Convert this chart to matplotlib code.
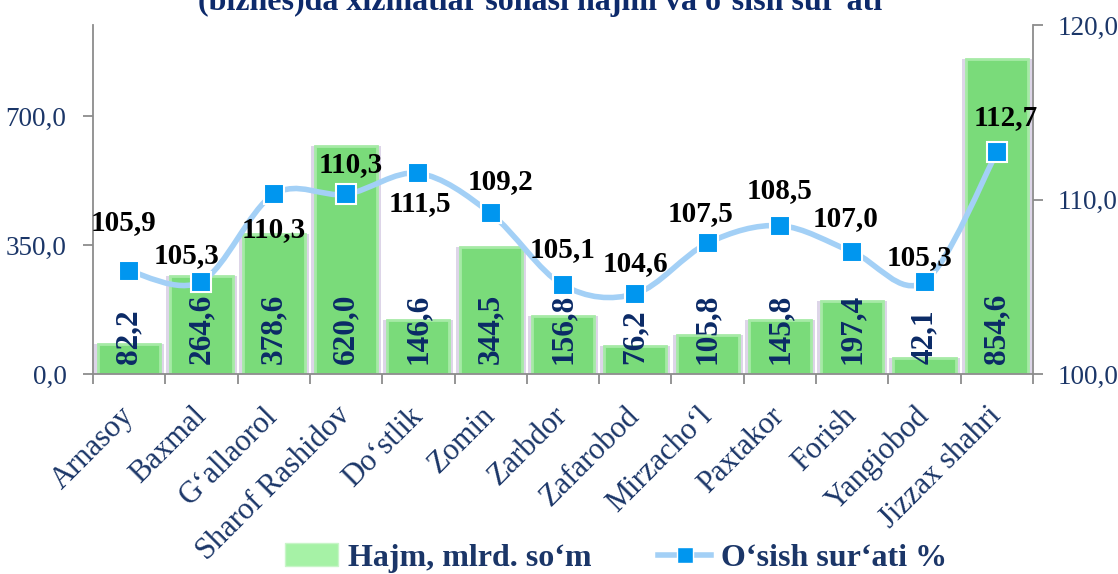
import matplotlib
matplotlib.use("Agg")
import matplotlib.pyplot as plt
from matplotlib.path import Path
from matplotlib.patches import PathPatch, Patch
from matplotlib.lines import Line2D

plt.rcParams["font.family"] = ["Liberation Serif", "DejaVu Serif"]

# data
districts = ["Arnasoy", "Baxmal", "G‘allaorol", "Sharof Rashidov", "Do‘stlik", "Zomin",
             "Zarbdor", "Zafarobod", "Mirzacho‘l", "Paxtakor", "Forish", "Yangiobod",
             "Jizzax shahri"]
volume = [82.2, 264.6, 378.6, 620.0, 146.6, 344.5, 156.8, 76.2, 105.8, 145.8, 197.4, 42.1, 854.6]
growth = [105.9, 105.3, 110.3, 110.3, 111.5, 109.2, 105.1, 104.6, 107.5, 108.5, 107.0, 105.3, 112.7]
left_ticks = [0, 350, 700]
right_ticks = [100, 110, 120]

# label offsets of growth values (pixels from marker)
growth_offsets = [(-6, 48), (-15, 26), (0, -35), (5, 30), (2, -30), (10, 32), (0, 35),
                  (0, 30), (-7, 30), (0, 35), (-7, 33), (-5, 24), (9, 35)]

navy = "#1b3668"
label_navy = "#0b2a66"

fig = plt.figure(figsize=(11.18, 5.74), dpi=100)
ax1 = fig.add_axes([93 / 1118, 1 - 374 / 574, 940 / 1118, 349 / 574])
ax2 = ax1.twinx()

x = list(range(len(districts)))

# bars with soft shadow
ax1.bar(x, volume, width=0.97, color="#ddd5e8", zorder=1)
ax1.bar(x, volume, width=0.86, color="#7adb7a", edgecolor="#a6eaa6", linewidth=2, zorder=2)
for xi, v in zip(x, volume):
    ax1.annotate(f"{v:.1f}".replace(".", ","), (xi, 0), xytext=(0, 10), textcoords="offset pixels",
                 rotation=90, ha="center", va="bottom", fontsize=22.5, fontweight="bold",
                 color=label_navy, zorder=3)

ax1.set_xlim(-0.5, len(districts) - 0.5)
ax1.set_ylim(0, 947)
ax2.set_ylim(100, 120)

# smooth line (Catmull-Rom through the points)
pts = list(zip(x, growth))
verts = [pts[0]]
codes = [Path.MOVETO]
for i in range(len(pts) - 1):
    p0 = pts[i - 1] if i > 0 else pts[i]
    p1 = pts[i]
    p2 = pts[i + 1]
    p3 = pts[i + 2] if i + 2 < len(pts) else pts[i + 1]
    c1 = (p1[0] + (p2[0] - p0[0]) / 6, p1[1] + (p2[1] - p0[1]) / 6)
    c2 = (p2[0] - (p3[0] - p1[0]) / 6, p2[1] - (p3[1] - p1[1]) / 6)
    verts += [c1, c2, p2]
    codes += [Path.CURVE4] * 3
ax2.add_patch(PathPatch(Path(verts, codes), fill=False, edgecolor="#a3d0f6", linewidth=4,
                        capstyle="round", zorder=4))
ax2.plot(x, growth, linestyle="none", marker="s", markersize=14, markerfacecolor="#0096ef",
         markeredgecolor="white", markeredgewidth=1.5, zorder=5)
for xi, g, (dx, dy) in zip(x, growth, growth_offsets):
    ax2.annotate(f"{g:.1f}".replace(".", ","), (xi, g), xytext=(dx, dy), textcoords="offset pixels",
                 ha="center", va="center", fontsize=21, fontweight="bold", color="black", zorder=6)

# axes styling
spine_c = "#8c8c8c"
for ax in (ax1, ax2):
    ax.spines["top"].set_visible(False)
    for s in ("left", "right", "bottom"):
        ax.spines[s].set_color(spine_c)
        ax.spines[s].set_linewidth(1.3)
ax1.spines["right"].set_visible(False)
ax2.spines["left"].set_visible(False)
ax2.spines["bottom"].set_visible(False)

ax1.set_yticks(left_ticks)
ax1.set_yticklabels([f"{t:.1f}".replace(".", ",") for t in left_ticks])
ax2.set_yticks(right_ticks)
ax2.set_yticklabels([f"{t:.1f}".replace(".", ",") for t in right_ticks])
ax1.tick_params(axis="y", direction="out", length=7, width=1.3, color=spine_c,
                labelsize=19.5, labelcolor=navy, pad=12)
ax2.tick_params(axis="y", direction="out", length=7, width=1.3, color=spine_c,
                labelsize=19.5, labelcolor=navy, pad=11)

ax1.set_xticks([i + 0.5 for i in range(-1, len(districts))])
ax1.set_xticklabels([])
ax1.set_xticks(x, minor=True)
ax1.set_xticklabels(districts, minor=True, rotation=45, ha="right", va="center",
                    rotation_mode="anchor", fontsize=22, color=navy)
ax1.tick_params(axis="x", which="major", direction="out", length=7, width=1.3, color=spine_c)
ax1.tick_params(axis="x", which="minor", length=0, pad=27)

# title (cut off at top in the original)
fig.text(540 / 1118, 1 - 10 / 574, "(biznes)da xizmatlar sohasi hajmi va o‘sish sur‘ati",
         ha="center", va="baseline", fontsize=23, fontweight="bold", color="#0d2a6b")

# legend
handles = [Patch(facecolor="#a6f2a6", edgecolor="#c8f5c8"),
           Line2D([], [], color="#a3d0f6", linewidth=4, marker="s", markersize=12,
                  markerfacecolor="#0096ef", markeredgecolor="white")]
fig.legend(handles, ["Hajm, mlrd. so‘m", "O‘sish sur‘ati %"], loc="center",
           bbox_to_anchor=(616 / 1118, 1 - 558 / 574), ncol=2, frameon=False,
           prop={"size": 23, "weight": "bold"}, labelcolor=navy, handlelength=1.65,
           handletextpad=0.3, columnspacing=2.1)

fig.savefig("out.png", dpi=100)
